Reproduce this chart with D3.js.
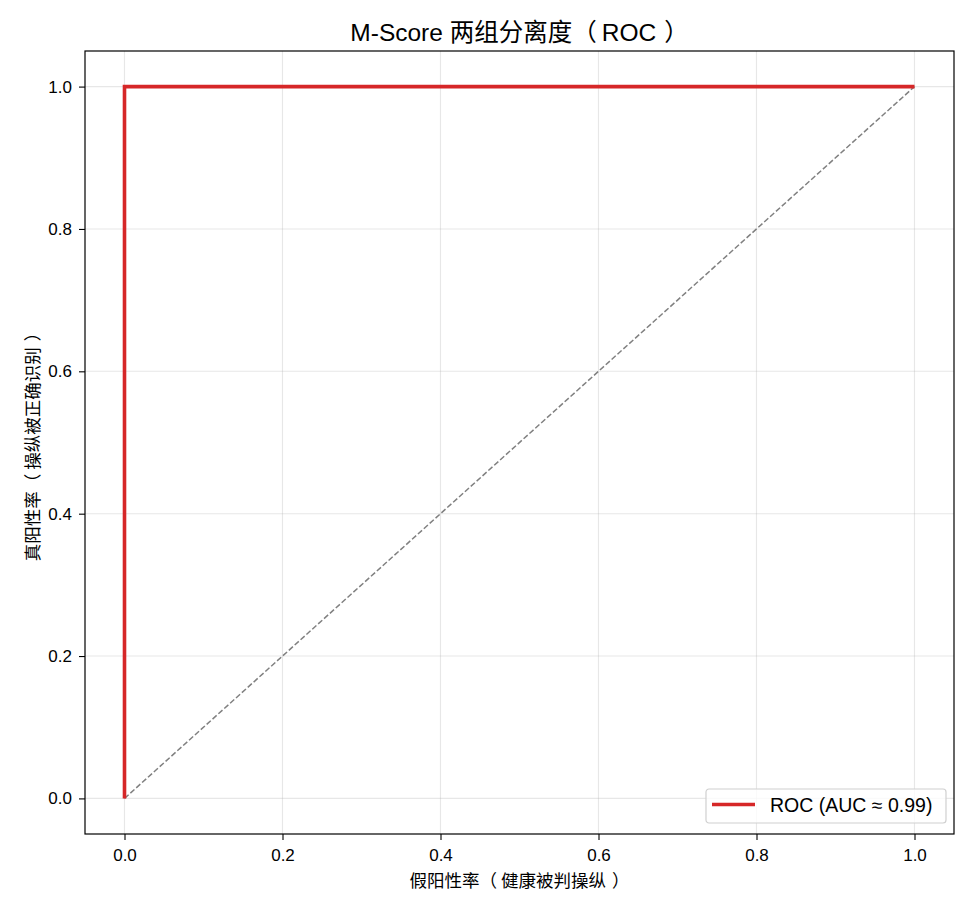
<!DOCTYPE html>
<html>
<head>
<meta charset="utf-8">
<script src="https://cdn.jsdelivr.net/npm/d3@7"></script>
<style>
  body { margin: 0; background: #fff; }
  svg text { font-family: "Liberation Sans", Arial, "Noto Sans CJK SC", sans-serif; }
</style>
</head>
<body>
<svg id="chart" width="975" height="910"></svg>
<script>
// ROC 曲线数据
var fpr = [0, 0, 1]
var tpr = [0, 1, 1]
var diagX = [0, 1]
var diagY = [0, 1]
var ticks = [0, 0.2, 0.4, 0.6, 0.8, 1.0]
var legendLabel = "ROC (AUC ≈ 0.99)"

var width = 975
var height = 910
var margin = { top: 51, right: 21, bottom: 76, left: 85 }
var svg = d3.select("#chart")

var xScale = d3.scaleLinear()
    .domain([-0.05, 1.05])
    .range([margin.left, width - margin.right])
var yScale = d3.scaleLinear()
    .domain([-0.05, 1.05])
    .range([height - margin.bottom, margin.top])

// 网格
svg.append("g").selectAll("line")
    .data(ticks).enter().append("line")
    .attr("x1", function (d) { return xScale(d) })
    .attr("x2", function (d) { return xScale(d) })
    .attr("y1", margin.top).attr("y2", height - margin.bottom)
    .attr("stroke", "#b0b0b0").attr("stroke-opacity", 0.3).attr("stroke-width", 1.1)
svg.append("g").selectAll("line")
    .data(ticks).enter().append("line")
    .attr("y1", function (d) { return yScale(d) })
    .attr("y2", function (d) { return yScale(d) })
    .attr("x1", margin.left).attr("x2", width - margin.right)
    .attr("stroke", "#b0b0b0").attr("stroke-opacity", 0.3).attr("stroke-width", 1.1)

// 坐标轴
var xAxis = d3.axisBottom(xScale).tickValues(ticks).tickFormat(d3.format(".1f")).tickSize(6).tickPadding(9)
var yAxis = d3.axisLeft(yScale).tickValues(ticks).tickFormat(d3.format(".1f")).tickSize(6).tickPadding(7)
var gx = svg.append("g")
    .attr("transform", "translate(0," + (height - margin.bottom) + ")")
    .call(xAxis)
var gy = svg.append("g")
    .attr("transform", "translate(" + margin.left + ",0)")
    .call(yAxis)
;[gx, gy].forEach(function (g) {
    g.select(".domain").remove()
    g.selectAll(".tick line").attr("stroke", "#000").attr("stroke-width", 1.1)
    g.selectAll(".tick text").attr("fill", "#000").style("font-size", "17px")
        .style("font-family", "'Liberation Sans', Arial, sans-serif")
})

// 对角线
var line = d3.line()
    .x(function (d) { return xScale(d[0]) })
    .y(function (d) { return yScale(d[1]) })
svg.append("path")
    .datum(d3.zip(diagX, diagY))
    .attr("d", line)
    .attr("fill", "none")
    .attr("stroke", "#808080")
    .attr("stroke-width", 1.5)
    .attr("stroke-dasharray", "5.5,2.4")

// ROC
svg.append("path")
    .datum(d3.zip(fpr, tpr))
    .attr("d", line)
    .attr("fill", "none")
    .attr("stroke", "#d62728")
    .attr("stroke-width", 3.6)

// 边框
svg.append("rect")
    .attr("x", margin.left).attr("y", margin.top)
    .attr("width", width - margin.left - margin.right)
    .attr("height", height - margin.top - margin.bottom)
    .attr("fill", "none").attr("stroke", "#000").attr("stroke-width", 1.2)

// 文字分段（全角括号两侧留空）
function addParts(t, parts) {
    parts.forEach(function (p) {
        t.append("tspan").attr("dx", p[1]).text(p[0])
    })
    return t
}

var cx = (margin.left + width - margin.right) / 2
addParts(svg.append("text")
    .attr("x", cx)
    .attr("y", 41)
    .attr("text-anchor", "middle")
    .style("font-size", "24.5px"),
    [["M-Score 两组分离度", 0], ["（", 0], ["ROC", 5], ["）", 8]])

addParts(svg.append("text")
    .attr("x", cx)
    .attr("y", 887)
    .attr("text-anchor", "middle")
    .style("font-size", "17.5px"),
    [["假阳性率", 0], ["（", 0], ["健康被判操纵", 4], ["）", 6]])

addParts(svg.append("text")
    .attr("transform", "translate(39," + ((margin.top + height - margin.bottom) / 2) + ") rotate(-90)")
    .attr("text-anchor", "middle")
    .style("font-size", "17.5px"),
    [["真阳性率", 0], ["（", 0], ["操纵被正确识别", 4], ["）", 6]])

// 图例
var lg = svg.append("g").attr("transform", "translate(706,789)")
lg.append("rect")
    .attr("width", 240).attr("height", 34).attr("rx", 3)
    .attr("fill", "#fff").attr("fill-opacity", 0.8)
    .attr("stroke", "#d0d0d0").attr("stroke-width", 1.2)
lg.append("line")
    .attr("x1", 6).attr("x2", 49).attr("y1", 15.5).attr("y2", 15.5)
    .attr("stroke", "#d62728").attr("stroke-width", 3.6)
lg.append("text")
    .attr("x", 64).attr("y", 23)
    .style("font-size", "19.5px")
    .text(legendLabel)
</script>
</body>
</html>
